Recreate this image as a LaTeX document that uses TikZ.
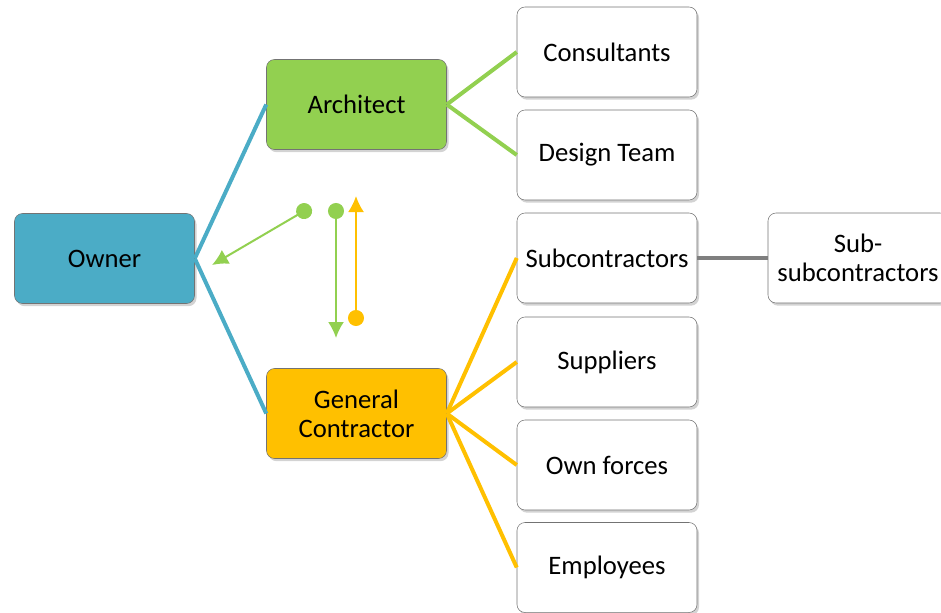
\documentclass[tikz,border=0pt]{standalone}
\usepackage{fontspec}
\setmainfont{Carlito}
\usetikzlibrary{arrows.meta,shadows}
\definecolor{ownerblue}{HTML}{4BACC6}
\definecolor{archgreen}{HTML}{92D050}
\definecolor{gcorange}{HTML}{FFC000}
\definecolor{linkgray}{HTML}{7F7F7F}
\begin{document}
\begin{tikzpicture}[x=0.75pt, y=-0.75pt, >=latex,
  box/.style={draw=black!55, rounded corners=6pt, minimum width=135pt, minimum height=67.5pt,
    align=center, font=\fontsize{20}{22}\selectfont, fill=white,
    drop shadow={shadow xshift=1.5pt, shadow yshift=-2pt, opacity=0.35}},
  link/.style={line width=3pt}]
\useasboundingbox (0,0) rectangle (941,612);

% Головні вузли
\node[box, fill=ownerblue] (owner) at (104.5,258.5) {Owner};
\node[box, fill=archgreen] (arch) at (356.5,104.5) {Architect};
\node[box, fill=gcorange] (gc) at (356.5,413.5) {General\\Contractor};

% Правий стовпчик
\node[box] (cons) at (607,52) {Consultants};
\node[box] (design) at (607,155) {Design Team};
\node[box] (subc) at (607,258) {Subcontractors};
\node[box] (suppl) at (607,362) {Suppliers};
\node[box] (forces) at (607,465) {Own forces};
\node[box] (empl) at (607,567.5) {Employees};
\node[box] (subsub) at (858,258) {Sub-\\subcontractors};

% Зв'язки
\foreach \n in {arch, gc} {
  \draw[link, ownerblue] (owner.east) -- (\n.west);
}
\foreach \n in {cons, design} {
  \draw[link, archgreen] (arch.east) -- (\n.west);
}
\foreach \n in {subc, suppl, forces, empl} {
  \draw[link, gcorange] (gc.east) -- (\n.west);
}
\draw[link, linkgray] (subc.east) -- (subsub.west);

% Стрілки
\coordinate (g1) at (311,207);
\coordinate (g1e) at (212,265);
\coordinate (g2) at (336,203);
\coordinate (g2e) at (336,338);
\coordinate (o1) at (356,326);
\coordinate (o1e) at (356,196);
\draw[line width=1.5pt, archgreen, {Circle[length=12pt]}-{Latex[length=12pt, width=12pt]}] (g1) -- (g1e);
\draw[line width=1.5pt, archgreen, {Circle[length=12pt]}-{Latex[length=12pt, width=12pt]}] (g2) -- (g2e);
\draw[line width=1.5pt, gcorange, {Circle[length=12pt]}-{Latex[length=12pt, width=12pt]}] (o1) -- (o1e);

\end{tikzpicture}
\end{document}
